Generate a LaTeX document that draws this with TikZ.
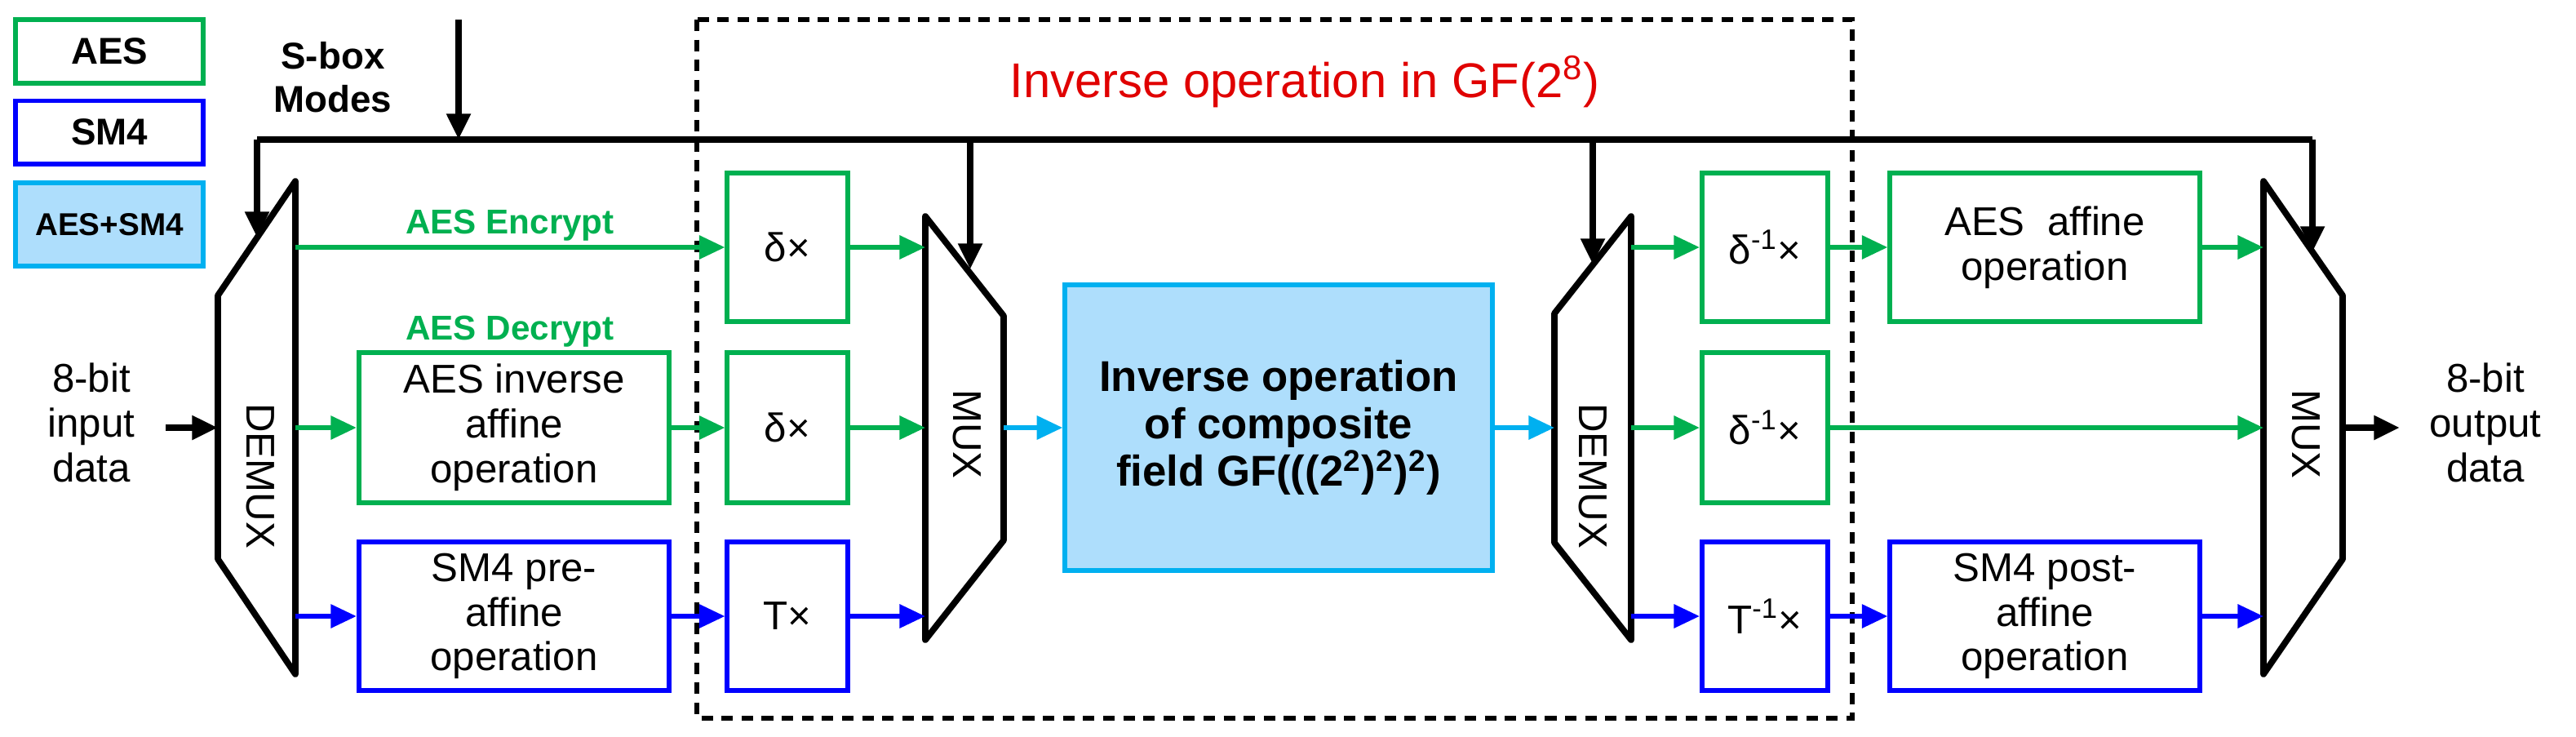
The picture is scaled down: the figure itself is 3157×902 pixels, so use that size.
\documentclass[tikz,border=0pt]{standalone}
\usepackage{fontspec}
\setmainfont{Liberation Sans}
\usetikzlibrary{arrows.meta}
\definecolor{cg}{HTML}{00B050}
\definecolor{cb}{HTML}{0000FF}
\definecolor{cc}{HTML}{00B0F0}
\definecolor{cf}{HTML}{AEDEFC}
\definecolor{cr}{HTML}{E00000}
\begin{document}
\begin{tikzpicture}[x=0.01cm,y=-0.01cm,
  box/.style={draw,line width=1.7pt,align=center,inner sep=0pt,font=\fontsize{14}{15.6}\selectfont},
  gbox/.style={box,draw=cg},
  bbox/.style={box,draw=cb},
  tip/.style={-{Triangle[length=9pt,width=8pt]}},
  garr/.style={tip,cg,line width=1.7pt},
  barr/.style={tip,cb,line width=1.7pt},
  carr/.style={tip,cc,line width=1.7pt},
  karr/.style={tip,black,line width=2.2pt},
  trap/.style={draw,line width=2.2pt,line join=round},
  lbl/.style={font=\fontsize{14}{15.6}\selectfont,align=center,inner sep=0pt}]
\useasboundingbox (0,0) rectangle (3157,902);
% legend
\node[gbox,minimum width=2.3cm,minimum height=0.78cm,font=\fontsize{13}{14}\bfseries] (lg1) at (134,63) {AES};
\node[bbox,minimum width=2.3cm,minimum height=0.77cm,font=\fontsize{13}{14}\bfseries] (lg2) at (134,162) {SM4};
\node[box,draw=cc,fill=cf,minimum width=2.3cm,minimum height=1.02cm,font=\fontsize{11}{12}\bfseries] (lg3) at (134,275) {AES+SM4};
\node[lbl,font=\fontsize{13}{15}\bfseries] (modes) at (408,95) {S-box\\Modes};
% dashed region
\draw[line width=1.5pt,dash pattern=on 4pt off 3pt] (854,24) rectangle (2270,880);
\node[lbl,text=cr,font=\fontsize{17}{19}\selectfont] (title) at (1599,100) {Inverse operation in GF(2\textsuperscript{8})};
% trapezoids
\draw[trap] (362,222) -- (362,826) -- (267,685) -- (267,362) -- cycle;
\draw[trap] (1134,265) -- (1134,784) -- (1230,662) -- (1230,387) -- cycle;
\draw[trap] (1999,265) -- (1999,784) -- (1905,665) -- (1905,384) -- cycle;
\draw[trap] (2774,222) -- (2774,826) -- (2871,685) -- (2871,362) -- cycle;
\node[lbl,rotate=-90] (dm1) at (319,583) {DEMUX};
\node[lbl,rotate=-90] (mx1) at (1185,532) {MUX};
\node[lbl,rotate=-90] (dm2) at (1952,583) {DEMUX};
\node[lbl,rotate=-90] (mx2) at (2826,532) {MUX};
% coordinates on trapezoid edges
\coordinate (d1o1) at (362,303); \coordinate (d1o2) at (362,524); \coordinate (d1o3) at (362,755);
\coordinate (d1in) at (267,524);
\coordinate (m1i1) at (1134,303); \coordinate (m1i2) at (1134,524); \coordinate (m1i3) at (1134,755);
\coordinate (m1o) at (1230,524);
\coordinate (d2in) at (1905,524);
\coordinate (d2o1) at (1999,303); \coordinate (d2o2) at (1999,524); \coordinate (d2o3) at (1999,755);
\coordinate (m2i1) at (2774,303); \coordinate (m2i2) at (2774,524); \coordinate (m2i3) at (2774,755);
\coordinate (m2o) at (2871,524);
\coordinate (sin) at (562,24); \coordinate (sbus) at (562,171);
\coordinate (bl) at (315,171); \coordinate (br) at (2834,171);
\coordinate (b1) at (1189,171); \coordinate (b2) at (1952,171);
\coordinate (c1) at (315,291); \coordinate (c2) at (1189,330); \coordinate (c3) at (1952,324); \coordinate (c4) at (2834,309);
\coordinate (inp) at (203,524); \coordinate (outp) at (2941,524);
% boxes
\node[gbox,minimum width=3.8cm,minimum height=1.83cm] (aesinv) at (630,524) {AES inverse\\affine\\operation};
\node[bbox,minimum width=3.8cm,minimum height=1.81cm] (sm4pre) at (630,755) {SM4 pre-\\affine\\operation};
\node[gbox,minimum width=1.47cm,minimum height=1.82cm] (dl1) at (965,303) {δ×};
\node[gbox,minimum width=1.47cm,minimum height=1.83cm] (dl2) at (965,524) {δ×};
\node[bbox,minimum width=1.47cm,minimum height=1.81cm] (tt) at (965,755) {T×};
\node[box,draw=cc,fill=cf,minimum width=5.23cm,minimum height=3.5cm,font=\fontsize{15}{16.5}\bfseries] (core) at (1567,524) {Inverse operation\\of composite\\field GF(((2\textsuperscript{2})\textsuperscript{2})\textsuperscript{2})};
\node[gbox,minimum width=1.54cm,minimum height=1.82cm] (di1) at (2163,303) {δ\textsuperscript{-1}×};
\node[gbox,minimum width=1.54cm,minimum height=1.83cm] (di2) at (2163,524) {δ\textsuperscript{-1}×};
\node[bbox,minimum width=1.54cm,minimum height=1.81cm] (ti) at (2163,755) {T\textsuperscript{-1}×};
\node[gbox,minimum width=3.79cm,minimum height=1.82cm] (aesaff) at (2506,303) {AES\ \ affine\\operation};
\node[bbox,minimum width=3.79cm,minimum height=1.81cm] (sm4post) at (2506,755) {SM4 post-\\affine\\operation};
\node[lbl] (intext) at (112,518) {8-bit\\input\\data};
\node[lbl] (outtext) at (3046,518) {8-bit\\output\\data};
\node[lbl,text=cg,font=\fontsize{12}{13}\bfseries] (enc) at (625,276) {AES Encrypt};
\node[lbl,text=cg,font=\fontsize{12}{13}\bfseries] (dec) at (625,406) {AES Decrypt};
% control
\draw[line width=2.2pt] (bl) -- (br);
\draw[karr] (sin) -- (sbus);
\draw[karr] (bl) -- (c1);
\draw[karr] (b1) -- (c2);
\draw[karr] (b2) -- (c3);
\draw[karr] (br) -- (c4);
% data
\draw[karr] (inp) -- (d1in);
\draw[karr] (m2o) -- (outp);
\draw[garr] (d1o1) -- (dl1);
\draw[garr] (d1o2) -- (aesinv);
\draw[garr] (aesinv) -- (dl2);
\draw[barr] (d1o3) -- (sm4pre);
\draw[barr] (sm4pre) -- (tt);
\draw[garr] (dl1) -- (m1i1);
\draw[garr] (dl2) -- (m1i2);
\draw[barr] (tt) -- (m1i3);
\draw[carr] (m1o) -- (core);
\draw[carr] (core) -- (d2in);
\draw[garr] (d2o1) -- (di1);
\draw[garr] (d2o2) -- (di2);
\draw[barr] (d2o3) -- (ti);
\draw[garr] (di1) -- (aesaff);
\draw[garr] (aesaff) -- (m2i1);
\draw[garr] (di2) -- (m2i2);
\draw[barr] (ti) -- (sm4post);
\draw[barr] (sm4post) -- (m2i3);
\end{tikzpicture}
\end{document}
